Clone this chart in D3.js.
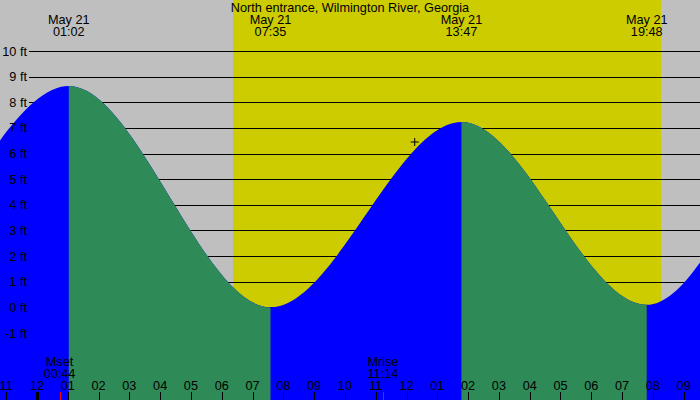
<!DOCTYPE html>
<html lang="en">
<head>
    <title>Tides - North entrance, Wilmington River</title>
    <script src="https://d3js.org/d3.v7.min.js"></script>
    <style>
        body { margin: 0; }
        text { font-family: "Liberation Sans", Arial, sans-serif; font-size: 12.7px; fill: #000; }
    </style>
</head>
<body>
<script>
    // chart data
    const title = "North entrance, Wilmington River, Georgia";
    const dateLabel = "May 21";
    // tide extremes in hours from midnight May 21 (the outer ones only shape the curve ends)
    const tideTimes = ["-11:20", "-05:12", "01:02", "07:35", "13:47", "19:48", "26:00", "32:10"];
    const tideFeet = [8.3, 1.4, 8.63, 0.0, 7.23, 0.1, 8.8, 0.2];
    const sunTimes = ["06:22", "20:16"];
    const moonNames = ["Mset", "Mrise"];
    const moonTimes = ["00:44", "11:14"];
    const hourValues = [-1, 0, 1, 2, 3, 4, 5, 6, 7, 8, 9, 10, 11, 12, 13, 14, 15, 16, 17, 18, 19, 20, 21];
    const hourLabels = ["11", "12", "01", "02", "03", "04", "05", "06", "07", "08", "09", "10",
                        "11", "12", "01", "02", "03", "04", "05", "06", "07", "08", "09"];
    const feetTicks = [-1, 0, 1, 2, 3, 4, 5, 6, 7, 8, 9, 10];
    const markTime = "12:16";
    const markFeet = 6.45;

    const W = 700, H = 400;

    // "hh:mm" -> decimal hours
    function hrs(s) {
        const neg = s[0] == "-";
        const p = s.replace("-", "").split(":").map(Number);
        const v = p[0] + p[1] / 60;
        return neg ? -v : v;
    }

    const x = d3.scaleLinear().domain([-1.2, 21.53]).range([0, W]);
    const y = d3.scaleLinear().domain([-1, 10]).range([333, 51]);

    const svg = d3.select("body").append("svg")
        .attr("width", W)
        .attr("height", H);

    // night background + daylight band
    svg.append("rect").attr("width", W).attr("height", H).attr("fill", "#bfbfbf");
    svg.append("rect")
        .attr("x", x(hrs(sunTimes[0])))
        .attr("width", x(hrs(sunTimes[1])) - x(hrs(sunTimes[0])))
        .attr("height", H)
        .attr("fill", "#cccc00");

    // horizontal grid lines
    svg.selectAll(".grid").data(feetTicks).enter().append("line")
        .attr("class", "grid")
        .attr("x1", 29).attr("x2", W)
        .attr("y1", d => Math.round(y(d)) + 0.5)
        .attr("y2", d => Math.round(y(d)) + 0.5)
        .attr("stroke", "#000")
        .attr("stroke-width", 1);

    // tide curve
    const pts = tideTimes.map((t, i) => ({h: hrs(t), f: tideFeet[i]}));
    const area = d3.area()
        .x(d => x(d.h))
        .y0(H)
        .y1(d => y(d.f))
        .curve(d3.curveMonotoneX);

    svg.append("path").datum(pts).attr("d", area).attr("fill", "#0000ff");

    // falling parts in green
    const falling = [];
    for (let i = 0; i < pts.length - 1; i++) {
        if (pts[i + 1].f < pts[i].f) falling.push([pts[i].h, pts[i + 1].h]);
    }
    svg.append("clipPath").attr("id", "fall")
        .selectAll("rect").data(falling).enter().append("rect")
        .attr("x", d => x(d[0]))
        .attr("width", d => x(d[1]) - x(d[0]))
        .attr("y", 0).attr("height", H);
    svg.append("path").datum(pts).attr("d", area)
        .attr("fill", "#2e8b57")
        .attr("clip-path", "url(#fall)");

    // feet labels
    svg.selectAll(".ylab").data(feetTicks).enter().append("text")
        .attr("class", "ylab")
        .attr("x", 27)
        .attr("y", d => y(d) + 4.5)
        .attr("text-anchor", "end")
        .text(d => d + " ft");

    // title
    svg.append("text").attr("x", 350).attr("y", 12)
        .attr("text-anchor", "middle").text(title);

    // extreme labels at top
    const shown = pts.filter(d => x(d.h) > 0 && x(d.h) < W);
    const shownTimes = tideTimes.filter((t, i) => x(pts[i].h) > 0 && x(pts[i].h) < W);
    const extLabels = svg.selectAll(".ext").data(shown).enter().append("g").attr("class", "ext");
    extLabels.append("text").attr("x", d => x(d.h)).attr("y", 24)
        .attr("text-anchor", "middle").text(dateLabel);
    extLabels.append("text").attr("x", d => x(d.h)).attr("y", 36)
        .attr("text-anchor", "middle").text((d, i) => shownTimes[i]);

    // hour axis at bottom
    svg.selectAll(".hlab").data(hourValues).enter().append("text")
        .attr("class", "hlab")
        .attr("x", d => x(d))
        .attr("y", 390)
        .attr("text-anchor", "middle")
        .text((d, i) => hourLabels[i]);
    svg.selectAll(".htick").data(hourValues).enter().append("line")
        .attr("class", "htick")
        .attr("x1", d => Math.round(x(d)) + 0.5)
        .attr("x2", d => Math.round(x(d)) + 0.5)
        .attr("y1", 392).attr("y2", H)
        .attr("stroke", "#000")
        .attr("stroke-width", d => d % 24 == 0 ? 3 : 1);

    // moon rise / set
    moonTimes.forEach((t, i) => {
        const mx = x(hrs(t));
        svg.append("line")
            .attr("x1", Math.round(mx) + 0.5).attr("x2", Math.round(mx) + 0.5)
            .attr("y1", 392).attr("y2", H)
            .attr("stroke", "#ff0000");
        svg.append("text").attr("x", mx).attr("y", 366)
            .attr("text-anchor", "middle").text(moonNames[i]);
        svg.append("text").attr("x", mx).attr("y", 378)
            .attr("text-anchor", "middle").text(t);
    });

    // current time marker
    const cx = x(hrs(markTime)), cy = y(markFeet);
    svg.append("path")
        .attr("d", `M${cx - 4},${cy}H${cx + 4}M${cx},${cy - 4}V${cy + 4}`)
        .attr("stroke", "#000")
        .attr("stroke-width", 1);
</script>
</body>
</html>
